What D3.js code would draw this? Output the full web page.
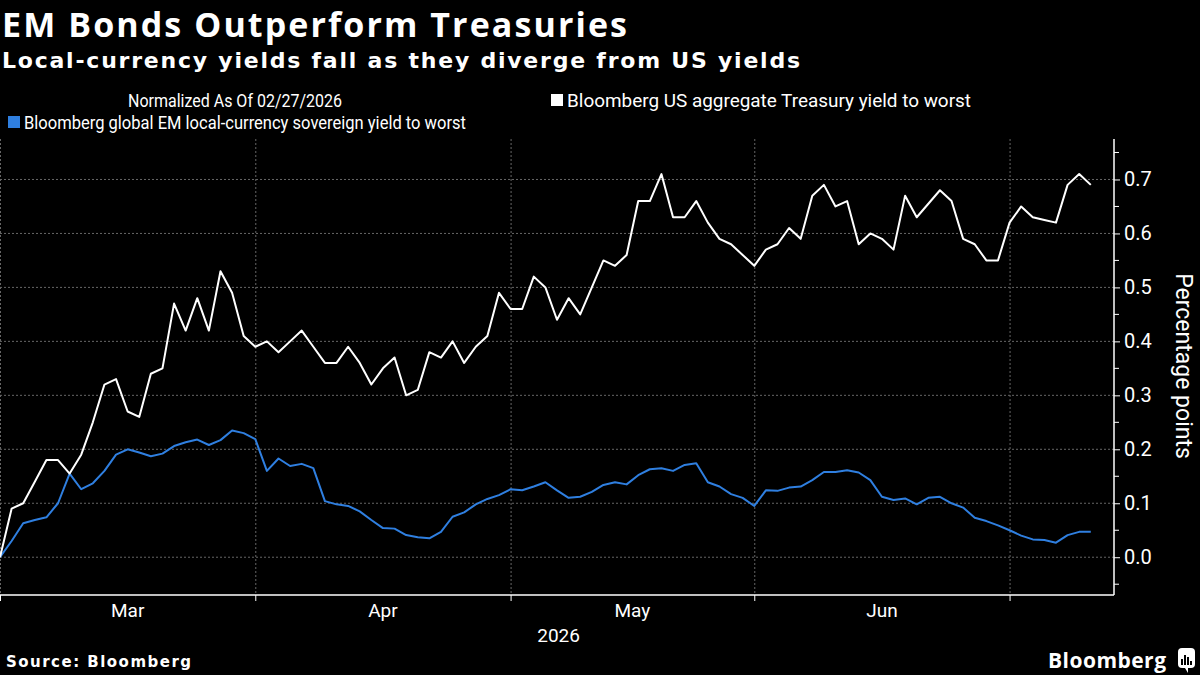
<!DOCTYPE html>
<html>
<head>
<meta charset="utf-8">
<script src="https://cdn.jsdelivr.net/npm/d3@7.9.0/dist/d3.min.js"></script>
<style>
  html, body { margin: 0; padding: 0; background: #000; }
  svg { display: block; }
</style>
</head>
<body>
<svg width="1200" height="675"></svg>
<script>
// trading-day index where each month starts (Apr, May, Jun, Jul)
const monthStarts = [22, 44, 65, 87];
const monthLabels = ['Mar', 'Apr', 'May', 'Jun'];
const yTicks = [0, 0.1, 0.2, 0.3, 0.4, 0.5, 0.6, 0.7];
const yMinorTicks = [-0.05, 0.05, 0.15, 0.25, 0.35, 0.45, 0.55, 0.65, 0.75];

// Bloomberg US aggregate Treasury yield to worst (normalized, pp)
const treasury = [
  0, 0.09, 0.10, 0.14, 0.18, 0.18, 0.155, 0.19, 0.25, 0.32,
  0.33, 0.27, 0.26, 0.34, 0.35, 0.47, 0.42, 0.48, 0.42, 0.53,
  0.49, 0.41, 0.39, 0.40, 0.38, 0.40, 0.42, 0.39, 0.36, 0.36,
  0.39, 0.36, 0.32, 0.35, 0.37, 0.30, 0.31, 0.38, 0.37, 0.40,
  0.36, 0.39, 0.41, 0.49, 0.46, 0.46, 0.52, 0.50, 0.44, 0.48,
  0.45, 0.50, 0.55, 0.54, 0.56, 0.66, 0.66, 0.71, 0.63, 0.63,
  0.66, 0.62, 0.59, 0.58, 0.56, 0.54, 0.57, 0.58, 0.61, 0.59,
  0.67, 0.69, 0.65, 0.66, 0.58, 0.60, 0.59, 0.57, 0.67, 0.63,
  0.655, 0.68, 0.66, 0.59, 0.58, 0.55, 0.55, 0.62, 0.65, 0.63,
  0.625, 0.62, 0.69, 0.71, 0.69
];

// Bloomberg global EM local-currency sovereign yield to worst (normalized, pp)
const emLocal = [
  0, 0.03, 0.063, 0.069, 0.074, 0.10, 0.155, 0.126, 0.137, 0.16,
  0.19, 0.20, 0.194, 0.187, 0.192, 0.206, 0.213, 0.218, 0.208, 0.217,
  0.235, 0.23, 0.219, 0.16, 0.183, 0.169, 0.173, 0.165, 0.104, 0.098,
  0.095, 0.085, 0.069, 0.054, 0.053, 0.041, 0.037, 0.035, 0.047, 0.075,
  0.083, 0.098, 0.108, 0.115, 0.126, 0.124, 0.131, 0.139, 0.124, 0.11,
  0.112, 0.121, 0.134, 0.139, 0.135, 0.152, 0.163, 0.165, 0.16, 0.171,
  0.174, 0.139, 0.131, 0.117, 0.11, 0.095, 0.124, 0.123, 0.129, 0.131,
  0.143, 0.158, 0.158, 0.161, 0.157, 0.143, 0.112, 0.106, 0.109, 0.098,
  0.11, 0.112, 0.10, 0.092, 0.073, 0.067, 0.059, 0.05, 0.04, 0.033,
  0.032, 0.027, 0.041, 0.047, 0.047
];

const blue = '#2f7fe0';
const font = 'Roboto, "Noto Sans", sans-serif';

const svg = d3.select('svg');
const plot = { left: 0, right: 1114, top: 139, bottom: 595 };

const x = d3.scaleLinear().domain([0, 96]).range([plot.left, plot.right]);
const y = d3.scaleLinear().domain([-0.07, 0.775]).range([plot.bottom, plot.top]);

// header
svg.append('text')
  .attr('x', 2).attr('y', 37)
  .attr('fill', '#fff')
  .attr('font-family', '"Open Sans", sans-serif')
  .attr('font-weight', 700)
  .attr('font-size', 34)
  .attr('textLength', 625)
  .text('EM Bonds Outperform Treasuries');

svg.append('text')
  .attr('x', 2).attr('y', 68)
  .attr('fill', '#fff')
  .attr('font-family', '"DejaVu Sans", sans-serif')
  .attr('font-weight', 700)
  .attr('font-size', 22)
  .attr('textLength', 798)
  .text('Local-currency yields fall as they diverge from US yields');

// legend
svg.append('text')
  .attr('x', 128).attr('y', 107)
  .attr('fill', '#fff')
  .attr('font-family', font)
  .attr('font-size', 18)
  .attr('textLength', 214)
  .attr('lengthAdjust', 'spacingAndGlyphs')
  .text('Normalized As Of 02/27/2026');

const legendItems = [
  { label: 'Bloomberg US aggregate Treasury yield to worst', color: '#fff', x: 551, y: 107, w: 404 },
  { label: 'Bloomberg global EM local-currency sovereign yield to worst', color: blue, x: 8, y: 129, w: 442 }
];

legendItems.forEach((d) => {
  svg.append('rect')
    .attr('x', d.x).attr('y', d.y - 13)
    .attr('width', 12).attr('height', 12)
    .attr('fill', d.color);
  svg.append('text')
    .attr('x', d.x + 16).attr('y', d.y)
    .attr('fill', '#fff')
    .attr('font-family', font)
    .attr('font-size', 18)
    .attr('textLength', d.w)
    .attr('lengthAdjust', 'spacingAndGlyphs')
    .text(d.label);
});

// grid
svg.append('g')
  .selectAll('line')
  .data(yTicks)
  .join('line')
  .attr('x1', plot.left).attr('x2', plot.right)
  .attr('y1', (d) => y(d)).attr('y2', (d) => y(d))
  .attr('stroke', '#666')
  .attr('stroke-width', 1)
  .attr('stroke-dasharray', '2,2');

svg.append('g')
  .selectAll('line')
  .data([0, ...monthStarts])
  .join('line')
  .attr('x1', (d) => x(d) + 0.5).attr('x2', (d) => x(d) + 0.5)
  .attr('y1', plot.top).attr('y2', plot.bottom)
  .attr('stroke', '#666')
  .attr('stroke-width', 1)
  .attr('stroke-dasharray', '2,2');

// axes
const yAxis = svg.append('g')
  .attr('transform', `translate(${plot.right},0)`)
  .call(d3.axisRight(y).tickValues(yTicks).tickFormat(d3.format('.1f')).tickSize(6).tickPadding(4));
yAxis.append('g')
  .selectAll('line')
  .data(yMinorTicks)
  .join('line')
  .attr('x1', 0).attr('x2', 5)
  .attr('y1', (d) => y(d)).attr('y2', (d) => y(d))
  .attr('stroke', '#fff');

const xAxis = svg.append('g')
  .attr('transform', `translate(0,${plot.bottom})`)
  .call(d3.axisBottom(x).tickValues([0, ...monthStarts]).tickFormat('').tickSize(6));

[yAxis, xAxis].forEach((g) => {
  g.select('.domain').attr('stroke', '#fff').attr('stroke-width', 1.5);
  g.selectAll('.tick line').attr('stroke', '#fff');
  g.selectAll('text').attr('fill', '#fff').attr('font-family', font).attr('font-size', 20);
});
yAxis.select('.domain').attr('d', `M0,${plot.top}V${plot.bottom}`);
xAxis.select('.domain').attr('d', `M${plot.left},0H${plot.right}`);

const bounds = [0, ...monthStarts];
svg.append('g')
  .selectAll('text')
  .data(monthLabels)
  .join('text')
  .attr('x', (d, i) => x((bounds[i] + bounds[i + 1]) / 2))
  .attr('y', 617)
  .attr('text-anchor', 'middle')
  .attr('fill', '#fff')
  .attr('font-family', font)
  .attr('font-size', 19)
  .text((d) => d);

svg.append('text')
  .attr('x', x(44) + 48).attr('y', 642)
  .attr('text-anchor', 'middle')
  .attr('fill', '#fff')
  .attr('font-family', font)
  .attr('font-size', 19)
  .text('2026');

svg.append('text')
  .attr('transform', 'translate(1176,366) rotate(90)')
  .attr('text-anchor', 'middle')
  .attr('fill', '#fff')
  .attr('font-family', font)
  .attr('font-size', 23)
  .text('Percentage points');

// lines
const line = d3.line()
  .x((d, i) => x(i))
  .y((d) => y(d));

svg.append('path')
  .datum(emLocal)
  .attr('fill', 'none')
  .attr('stroke', blue)
  .attr('stroke-width', 2)
  .attr('stroke-linejoin', 'round')
  .attr('d', line);

svg.append('path')
  .datum(treasury)
  .attr('fill', 'none')
  .attr('stroke', '#fff')
  .attr('stroke-width', 2)
  .attr('stroke-linejoin', 'round')
  .attr('d', line);

// footer
svg.append('text')
  .attr('x', 6).attr('y', 667)
  .attr('fill', '#fff')
  .attr('font-family', '"DejaVu Sans", sans-serif')
  .attr('font-weight', 700)
  .attr('font-size', 15)
  .attr('textLength', 185)
  .text('Source: Bloomberg');

svg.append('text')
  .attr('x', 1048).attr('y', 668)
  .attr('fill', '#fff')
  .attr('font-family', '"Open Sans", sans-serif')
  .attr('font-weight', 700)
  .attr('font-size', 21)
  .attr('textLength', 118)
  .text('Bloomberg');

const logo = svg.append('g').attr('transform', 'translate(1178,648)');
logo.append('rect')
  .attr('width', 17).attr('height', 20).attr('rx', 4)
  .attr('fill', '#fff');
logo.append('path')
  .attr('d', 'M7,20 L10,25 L10,20 Z')
  .attr('fill', '#fff');
[[4, 11], [7, 7], [10, 9], [13, 13]].forEach(([bx, by]) => {
  logo.append('rect')
    .attr('x', bx - 1).attr('y', by)
    .attr('width', 2).attr('height', 17 - by)
    .attr('fill', '#000');
});
</script>
</body>
</html>
